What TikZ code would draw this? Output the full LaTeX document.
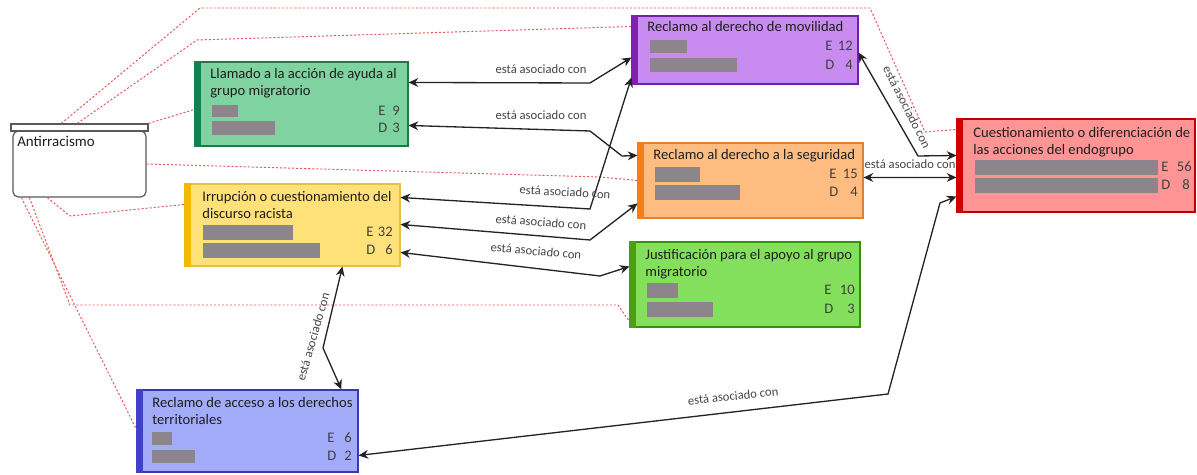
\documentclass[tikz,border=0pt]{standalone}
\usepackage{fontspec}
\setmainfont{Carlito}
\usetikzlibrary{arrows.meta,fit}

% palette
\definecolor{txt}{RGB}{30,30,30}
\definecolor{lbl}{RGB}{70,70,70}
\definecolor{linkc}{RGB}{35,35,35}
\definecolor{memb}{RGB}{228,88,88}
\definecolor{barc}{RGB}{140,134,140}
\definecolor{antiline}{RGB}{90,90,90}
\definecolor{llamfill}{RGB}{127,211,160}\definecolor{llambar}{RGB}{18,128,80}\definecolor{llamline}{RGB}{30,122,72}
\definecolor{movfill}{RGB}{200,140,240}\definecolor{movbar}{RGB}{128,32,176}\definecolor{movline}{RGB}{112,32,160}
\definecolor{segfill}{RGB}{255,188,128}\definecolor{segbar}{RGB}{245,127,23}\definecolor{segline}{RGB}{224,128,48}
\definecolor{cuefill}{RGB}{255,148,148}\definecolor{cuebar}{RGB}{208,0,0}\definecolor{cueline}{RGB}{192,0,0}
\definecolor{irrfill}{RGB}{255,225,122}\definecolor{irrbar}{RGB}{245,184,0}\definecolor{irrline}{RGB}{232,192,64}
\definecolor{jusfill}{RGB}{132,224,92}\definecolor{jusbar}{RGB}{76,160,16}\definecolor{jusline}{RGB}{60,140,16}
\definecolor{terfill}{RGB}{163,172,248}\definecolor{terbar}{RGB}{64,64,200}\definecolor{terline}{RGB}{56,56,176}

\tikzset{
  codebox/.style={draw, line width=0.6pt, inner sep=0pt},
  titletext/.style={anchor=north west, inner sep=0pt, align=left,
    font=\fontsize{8.3}{9.6}\selectfont, text=txt},
  tally/.style={inner sep=0pt, font=\fontsize{8.3}{9.6}\selectfont, text=txt!85},
  assoc/.style={draw=linkc, line width=0.75pt,
    {Stealth[length=5.5pt,width=5pt]}-{Stealth[length=5.5pt,width=5pt]}},
  memberlink/.style={draw=memb, line width=0.55pt, dash pattern=on 1.2pt off 1.1pt},
  assoclabel/.style={inner sep=0pt, font=\fontsize{7.2}{8}\selectfont, text=lbl},
  greybar/.style={fill=barc}
}

\begin{document}
\begin{tikzpicture}[x=0.02cm,y=-0.02cm]
\useasboundingbox (0,0) rectangle (1197,475);
\fill[white] (0,0) rectangle (1197,475);

% ---------- group node ----------
\node[fit={(13,131)(146,197)}, inner sep=0pt, draw=antiline, fill=white,
      line width=0.7pt, rounded corners=3pt] (anti) {};
\node[fit={(11,124)(148,131)}, inner sep=0pt, draw=antiline, fill=white,
      line width=0.7pt] (antiH) {};
\node[anchor=base west, inner sep=0pt, font=\fontsize{8.5}{9.6}\selectfont, text=txt]
  (antiT) at (17,147) {Antirracismo};

% ---------- code boxes ----------
\node[codebox, fit={(195,62)(408,146)}, fill=llamfill, draw=llamline] (llam) {};
\node[codebox, fit={(632,16)(858,84)}, fill=movfill, draw=movline] (mov) {};
\node[codebox, fit={(638,143)(863,218)}, fill=segfill, draw=segline] (seg) {};
\node[codebox, fit={(957,119)(1195,212)}, fill=cuefill, draw=cueline] (cue) {};
\node[codebox, fit={(185,184)(400,266)}, fill=irrfill, draw=irrline] (irr) {};
\node[codebox, fit={(630,242)(860,327)}, fill=jusfill, draw=jusline] (jus) {};
\node[codebox, fit={(137,390)(358,472)}, fill=terfill, draw=terline] (ter) {};

% coloured side strips
\fill[llambar] (llam.north west) rectangle ([xshift=0.14cm]llam.south west);
\fill[movbar] (mov.north west) rectangle ([xshift=0.14cm]mov.south west);
\fill[segbar] (seg.north west) rectangle ([xshift=0.14cm]seg.south west);
\fill[cuebar] (cue.north west) rectangle ([xshift=0.14cm]cue.south west);
\fill[irrbar] (irr.north west) rectangle ([xshift=0.14cm]irr.south west);
\fill[jusbar] (jus.north west) rectangle ([xshift=0.14cm]jus.south west);
\fill[terbar] (ter.north west) rectangle ([xshift=0.14cm]ter.south west);

% titles
\node[titletext] (llamT) at (210,68) {Llamado a la acción de ayuda al\\grupo migratorio};
\node[titletext] (movT) at (647,21.5) {Reclamo al derecho de movilidad};
\node[titletext] (segT) at (653,149.5) {Reclamo al derecho a la seguridad};
\node[titletext] (cueT) at (973,127.5) {Cuestionamiento o diferenciación de\\las acciones del endogrupo};
\node[titletext] (irrT) at (202,191.5) {Irrupción o cuestionamiento del\\discurso racista};
\node[titletext] (jusT) at (645,249.5) {Justificación para el apoyo al grupo\\migratorio};
\node[titletext] (terT) at (152,397.5) {Reclamo de acceso a los derechos\\territoriales};

% grey bars
\fill[greybar] (212,105) rectangle (238,117);
\fill[greybar] (212,121) rectangle (275,135);
\fill[greybar] (650,40) rectangle (687,53);
\fill[greybar] (650,58) rectangle (737,72);
\fill[greybar] (655,167) rectangle (700,182);
\fill[greybar] (655,185) rectangle (740,200);
\fill[greybar] (975,160) rectangle (1158,175);
\fill[greybar] (975,178) rectangle (1158,193);
\fill[greybar] (203,225) rectangle (293,240);
\fill[greybar] (203,243) rectangle (320,258);
\fill[greybar] (647,283) rectangle (678,298);
\fill[greybar] (647,302) rectangle (713,317);
\fill[greybar] (152,432) rectangle (172,445);
\fill[greybar] (152,450) rectangle (195,463);

% counts
\node[tally, anchor=mid west] (llamE) at (378,111) {E};
\node[tally, anchor=mid east] (llamEv) at (400,111) {9};
\node[tally, anchor=mid west] (llamD) at (378,128) {D};
\node[tally, anchor=mid east] (llamDv) at (400,128) {3};
\node[tally, anchor=mid west] (movE) at (825,46.5) {E};
\node[tally, anchor=mid east] (movEv) at (853,46.5) {12};
\node[tally, anchor=mid west] (movD) at (825,65) {D};
\node[tally, anchor=mid east] (movDv) at (853,65) {4};
\node[tally, anchor=mid west] (segE) at (829,174.5) {E};
\node[tally, anchor=mid east] (segEv) at (858,174.5) {15};
\node[tally, anchor=mid west] (segD) at (829,192.5) {D};
\node[tally, anchor=mid east] (segDv) at (858,192.5) {4};
\node[tally, anchor=mid west] (cueE) at (1161,167.5) {E};
\node[tally, anchor=mid east] (cueEv) at (1192,167.5) {56};
\node[tally, anchor=mid west] (cueD) at (1161,185.5) {D};
\node[tally, anchor=mid east] (cueDv) at (1190,185.5) {8};
\node[tally, anchor=mid west] (irrE) at (366,232.5) {E};
\node[tally, anchor=mid east] (irrEv) at (393,232.5) {32};
\node[tally, anchor=mid west] (irrD) at (366,250.5) {D};
\node[tally, anchor=mid east] (irrDv) at (393,250.5) {6};
\node[tally, anchor=mid west] (jusE) at (824,290.5) {E};
\node[tally, anchor=mid east] (jusEv) at (855,290.5) {10};
\node[tally, anchor=mid west] (jusD) at (824,309.5) {D};
\node[tally, anchor=mid east] (jusDv) at (855,309.5) {3};
\node[tally, anchor=mid west] (terE) at (327,438.5) {E};
\node[tally, anchor=mid east] (terEv) at (352,438.5) {6};
\node[tally, anchor=mid west] (terD) at (327,456.5) {D};
\node[tally, anchor=mid east] (terDv) at (352,456.5) {2};

% ---------- membership links from the group ----------
\draw[memberlink] ([xshift=1.02cm]antiH.north west) -- (200,8) -- (870,8) -- (925,132) -- ([yshift=-0.22cm]cue.north west);
\draw[memberlink] ([xshift=1.34cm]antiH.north west) -- (197,40) -- ([yshift=-0.22cm]mov.north west);
\draw[memberlink] (antiH.north east) -- ([yshift=-0.96cm]llam.north west);
\draw[memberlink] (anti.east) -- (600,177) -- ([yshift=-0.76cm]seg.north west);
\draw[memberlink] ([xshift=0.7cm]anti.south west) -- (70,216) -- ([yshift=-0.42cm]irr.north west);
\draw[memberlink] ([xshift=0.34cm]anti.south west) -- (70,305) -- (618,305) -- ([yshift=-1.6cm]jus.north west);
\draw[memberlink] ([xshift=0.18cm]anti.south west) -- ([yshift=-0.8cm]ter.north west);

% ---------- association links ----------
\draw[assoc] ([yshift=-0.42cm]llam.north east) -- (590,83) -- ([yshift=-0.84cm]mov.north west);
\draw[assoc] ([yshift=-1.28cm]llam.north east) -- (590,131) -- (622,156) -- ([yshift=-0.26cm]seg.north west);
\draw[assoc] ([yshift=-0.28cm]irr.north east) -- (590,209) -- ([yshift=-1.24cm]mov.north west);
\draw[assoc] ([yshift=-0.82cm]irr.north east) -- (590,240) -- ([yshift=-1.22cm]seg.north west);
\draw[assoc] ([yshift=-1.38cm]irr.north east) -- (600,276) -- ([yshift=-0.5cm]jus.north west);
\draw[assoc] ([yshift=-0.74cm]mov.north east) -- (918,156) -- ([yshift=-0.74cm]cue.north west);
\draw[assoc] ([yshift=-0.70cm]seg.north east) -- ([yshift=-1.18cm]cue.north west);
\draw[assoc] ([yshift=-1.32cm]ter.north east) -- (888,394) -- (940,203) -- ([yshift=-1.56cm]cue.north west);
\draw[assoc] ([xshift=3.16cm]irr.south west) -- (323,348) -- ([xshift=4.10cm]ter.north west);

% link labels
\node[assoclabel] (la) at (541,69) {está asociado con};
\node[assoclabel] (lb) at (541,115) {está asociado con};
\node[assoclabel, rotate=-3] (lc) at (565,192) {está asociado con};
\node[assoclabel, rotate=-4] (ld) at (541,222) {está asociado con};
\node[assoclabel, rotate=-5] (le) at (536,251) {está asociado con};
\node[assoclabel, rotate=-63] (lf) at (907,107) {está asociado con};
\node[assoclabel] (lg) at (910,164) {está asociado con};
\node[assoclabel, rotate=6] (lh) at (733,396) {está asociado con};
\node[assoclabel, rotate=74] (li) at (313,337) {está asociado con};
\end{tikzpicture}
\end{document}
